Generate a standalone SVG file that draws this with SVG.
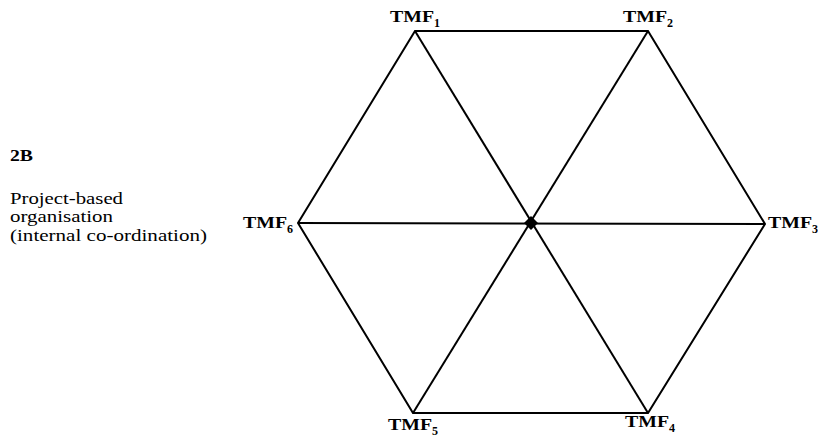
<svg xmlns="http://www.w3.org/2000/svg" width="818" height="441" viewBox="0 0 818 441">
<style>
.l{stroke:#000;stroke-width:2;fill:none}
.t{font-family:"Liberation Serif","Times New Roman",serif;font-size:17px;font-weight:bold;fill:#000}
.s{font-size:12px}
.p{font-family:"Liberation Serif","Times New Roman",serif;font-size:16px;fill:#000}
</style>
<rect width="818" height="441" fill="#fff"/>
<g id="connectors">
<polygon class="l" points="415,31 648,31 765,224 648,413 413,413 298,223"/>
<line class="l" x1="415" y1="31" x2="648" y2="413"/>
<line class="l" x1="648" y1="31" x2="413" y2="413"/>
<line class="l" x1="298" y1="223" x2="765" y2="224"/>
</g>
<g id="center"><polygon points="531,216 538,223 531,230 524,223" fill="#000"/></g>
<g id="tmf1"><text class="t" x="390" y="22"><tspan textLength="44" lengthAdjust="spacingAndGlyphs">TMF</tspan><tspan class="s" dy="5">1</tspan></text></g>
<g id="tmf2"><text class="t" x="623" y="22"><tspan textLength="44" lengthAdjust="spacingAndGlyphs">TMF</tspan><tspan class="s" dy="5">2</tspan></text></g>
<g id="tmf3"><text class="t" x="768" y="228"><tspan textLength="44" lengthAdjust="spacingAndGlyphs">TMF</tspan><tspan class="s" dy="5">3</tspan></text></g>
<g id="tmf4"><text class="t" x="625" y="427"><tspan textLength="44" lengthAdjust="spacingAndGlyphs">TMF</tspan><tspan class="s" dy="5">4</tspan></text></g>
<g id="tmf5"><text class="t" x="388" y="430"><tspan textLength="44" lengthAdjust="spacingAndGlyphs">TMF</tspan><tspan class="s" dy="5">5</tspan></text></g>
<g id="tmf6"><text class="t" x="243" y="228"><tspan textLength="44" lengthAdjust="spacingAndGlyphs">TMF</tspan><tspan class="s" dy="5">6</tspan></text></g>
<g id="label">
<text class="p" x="10" y="161" font-weight="bold" textLength="23" lengthAdjust="spacingAndGlyphs">2B</text>
<text class="p" x="10" y="204" textLength="113" lengthAdjust="spacingAndGlyphs">Project-based</text>
<text class="p" x="10" y="222" textLength="103" lengthAdjust="spacingAndGlyphs">organisation</text>
<text class="p" x="10" y="241" textLength="197" lengthAdjust="spacingAndGlyphs">(internal co-ordination)</text>
</g>
</svg>
